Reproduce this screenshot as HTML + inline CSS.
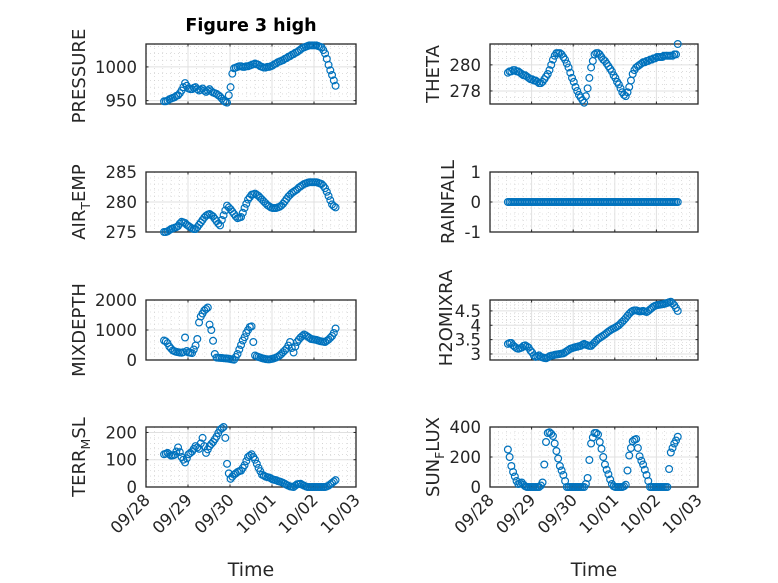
<!DOCTYPE html>
<html><head><meta charset="utf-8"><style>
html,body{margin:0;padding:0;background:#fff}
svg{display:block;font-family:"DejaVu Sans","Liberation Sans",sans-serif}
</style></head><body>
<svg id="fig" width="778" height="583" viewBox="0 0 778 583">
<rect width="778" height="583" fill="#fff"/>
<text x="251" y="31" text-anchor="middle" font-size="17.5" font-weight="bold" fill="#000">Figure 3 high</text>
</svg>
<script>
const xTickLabels = ["09/28","09/29","09/30","10/01","10/02","10/03"];
const tStart = 0.43, tStepHours = 1;
const pressure = [949,949,950,952,953,954,955,957,958,961,965,970,976,972,968,967,967,969,970,967,965,966,968,965,963,965,967,964,962,961,960,958,956,953,950,948,947,958,970,990,998,999,1000,1001,1001,1000,1000,1001,1001,1002,1003,1004,1005,1004,1003,1001,1000,999,999,1000,1000,1001,1002,1004,1005,1007,1008,1009,1010,1012,1013,1015,1016,1018,1019,1021,1022,1024,1026,1028,1029,1030,1031,1032,1032,1032,1032,1032,1031,1030,1029,1025,1020,1012,1003,995,988,980,972];
const theta = [279.4,279.5,279.5,279.6,279.6,279.5,279.5,279.4,279.3,279.2,279.2,279.1,279.0,278.9,278.9,278.8,278.8,278.7,278.6,278.6,278.7,278.9,279.1,279.3,279.6,280.0,280.4,280.7,280.9,280.9,280.9,280.8,280.6,280.4,280.1,279.8,279.4,279.0,278.7,278.3,278.0,277.7,277.5,277.3,277.1,277.6,278.2,279.0,279.8,280.3,280.8,280.9,280.9,280.8,280.6,280.4,280.3,280.1,279.9,279.7,279.5,279.2,279.0,278.7,278.5,278.2,277.9,277.7,277.6,277.9,278.3,278.8,279.3,279.6,279.8,279.9,280.0,280.1,280.2,280.2,280.3,280.3,280.4,280.4,280.5,280.5,280.6,280.6,280.6,280.6,280.7,280.7,280.7,280.7,280.7,280.7,280.8,280.8,281.6];
const airTemp = [275.0,275.0,275.1,275.3,275.5,275.6,275.7,275.8,276.0,276.4,276.7,276.6,276.5,276.2,276.0,275.8,275.6,275.5,275.5,275.8,276.2,276.6,277.0,277.4,277.7,277.9,278.0,277.8,277.6,277.2,276.8,276.4,276.1,277.0,277.8,278.6,279.4,279.1,278.8,278.4,278.0,277.6,277.3,277.4,277.5,278.2,279.0,279.7,280.4,280.8,281.2,281.3,281.4,281.2,281.0,280.7,280.4,280.1,279.8,279.5,279.3,279.1,279.0,279.0,279.0,279.1,279.2,279.4,279.7,280.1,280.5,280.9,281.2,281.5,281.7,281.9,282.1,282.4,282.6,282.8,283.0,283.1,283.2,283.3,283.3,283.3,283.3,283.3,283.2,283.1,283.0,282.7,282.3,281.7,281.0,280.3,279.6,279.3,279.1];
const rainfall = [0,0,0,0,0,0,0,0,0,0,0,0,0,0,0,0,0,0,0,0,0,0,0,0,0,0,0,0,0,0,0,0,0,0,0,0,0,0,0,0,0,0,0,0,0,0,0,0,0,0,0,0,0,0,0,0,0,0,0,0,0,0,0,0,0,0,0,0,0,0,0,0,0,0,0,0,0,0,0,0,0,0,0,0,0,0,0,0,0,0,0,0,0,0,0,0,0,0,0];
const mixDepth = [650,620,560,450,380,320,290,270,260,250,240,260,750,300,250,240,230,350,480,700,1250,1450,1550,1650,1700,1750,1180,1000,640,200,80,75,70,65,60,55,50,40,30,20,10,100,200,350,500,650,760,900,1000,1100,1120,600,150,120,100,80,60,45,30,25,20,30,40,60,80,110,150,200,260,320,380,480,600,400,250,450,600,680,750,800,850,820,780,740,700,690,680,670,650,630,620,610,600,640,680,740,800,900,1050];
const h2oMixRa = [3.35,3.38,3.38,3.30,3.25,3.20,3.18,3.20,3.22,3.28,3.30,3.26,3.22,3.12,3.05,2.95,2.90,2.92,2.95,2.90,2.88,2.86,2.85,2.88,2.92,2.94,2.95,2.97,2.98,2.99,3.00,3.01,3.02,3.06,3.10,3.14,3.18,3.20,3.22,3.24,3.25,3.27,3.28,3.32,3.35,3.32,3.30,3.28,3.28,3.34,3.40,3.46,3.52,3.56,3.60,3.64,3.68,3.73,3.78,3.82,3.86,3.89,3.92,3.96,4.00,4.06,4.12,4.18,4.25,4.33,4.40,4.46,4.50,4.52,4.52,4.50,4.48,4.49,4.50,4.48,4.46,4.50,4.55,4.60,4.65,4.68,4.70,4.71,4.72,4.73,4.74,4.76,4.78,4.80,4.82,4.76,4.70,4.60,4.50];
const terrMsl = [120,122,125,120,115,116,118,130,145,128,110,100,90,105,120,125,130,140,150,145,140,160,180,150,125,138,150,158,165,175,185,198,210,215,220,180,85,50,30,38,45,50,55,58,60,70,80,95,110,115,120,110,100,85,70,58,45,42,38,36,35,32,28,26,25,22,20,18,15,12,8,5,2,1,0,5,10,11,12,8,5,2,0,0,0,0,0,0,0,0,0,0,0,2,5,10,15,20,25];
const sunFlux = [250,200,140,100,70,40,20,25,30,15,5,0,0,0,0,0,0,0,0,10,30,150,300,360,365,355,340,290,240,190,140,110,80,40,0,0,0,0,0,0,0,0,0,0,0,20,60,180,290,330,360,360,350,300,255,200,150,115,85,50,20,5,0,0,0,0,0,5,15,110,210,260,305,315,320,260,205,175,150,115,80,40,0,0,0,0,0,0,0,0,0,0,0,120,230,260,290,310,335];
const pressureTicks = [950,1000];
const thetaTicks = [278,280];
const airTempTicks = [275,280,285];
const rainTicks = [-1,0,1];
const mixTicks = [0,1000,2000];
const h2oTicks = [3,3.5,4,4.5];
const terrTicks = [0,100,200];
const sunTicks = [0,200,400];

const NS = "http://www.w3.org/2000/svg";
const svg = document.getElementById("fig");
function mk(tag, attrs, parent){const e=document.createElementNS(NS,tag);for(const k in attrs)e.setAttribute(k,attrs[k]);(parent||svg).appendChild(e);return e;}

const panels = [
 {key:"pressure",data:pressure,ticks:pressureTicks,lim:[945,1034],minor:10,col:0,row:0,label:"PRESSURE",lx:-61,ly:2},
 {key:"theta",data:theta,ticks:thetaTicks,lim:[277,281.6],minor:0.5,col:1,row:0,label:"THETA",lx:-51,ly:0},
 {key:"air-temp",data:airTemp,ticks:airTempTicks,lim:[275,285],minor:1,col:0,row:1,label:["AIR","T","EMP"],lx:-61,ly:0},
 {key:"rainfall",data:rainfall,ticks:rainTicks,lim:[-1,1],minor:0.2,col:1,row:1,label:"RAINFALL",lx:-36,ly:0},
 {key:"mixdepth",data:mixDepth,ticks:mixTicks,lim:[0,2000],minor:200,col:0,row:2,label:"MIXDEPTH",lx:-61,ly:0},
 {key:"h2omixra",data:h2oMixRa,ticks:h2oTicks,lim:[2.79,4.88],minor:0.1,col:1,row:2,label:"H2OMIXRA",lx:-38,ly:-12},
 {key:"terr-msl",data:terrMsl,ticks:terrTicks,lim:[0,220],minor:20,col:0,row:3,label:["TERR","M","SL"],lx:-61,ly:0},
 {key:"sun-flux",data:sunFlux,ticks:sunTicks,lim:[0,400],minor:40,col:1,row:3,label:["SUN","F","LUX"],lx:-51,ly:0}
];
const colX=[146,490], colW=[210,208];
const rowY=[44,172,300,427], rowH=60;

panels.forEach(p=>{
  const x0=colX[p.col], w=colW[p.col], y0=rowY[p.row], h=rowH;
  const xs = t => x0 + t/5*w;
  const ys = v => y0 + h - (v-p.lim[0])/(p.lim[1]-p.lim[0])*h;
  const g = mk("g",{});
  
  
  for(let d=0; d<5; d+=0.2){ if(Math.abs(d-Math.round(d))<1e-6) continue;
    const l=mk("line",{x1:xs(d),x2:xs(d),y1:y0,y2:y0+h,stroke:"#c8c8c8","stroke-width":0.6,"stroke-dasharray":"1 3"},g);
      }
  const start=Math.ceil(p.lim[0]/p.minor)*p.minor;
  for(let v=start; v<=p.lim[1]+1e-9; v+=p.minor){
    if(p.ticks.some(t=>Math.abs(t-v)<1e-6)) continue;
    const l=mk("line",{x1:x0,x2:x0+w,y1:ys(v),y2:ys(v),stroke:"#c8c8c8","stroke-width":0.6,"stroke-dasharray":"1 3"},g);
      }
  for(let d=1; d<5; d++){
    const l=mk("line",{x1:xs(d),x2:xs(d),y1:y0,y2:y0+h,stroke:"#e0e0e0","stroke-width":1},g);
     
    mk("line",{x1:xs(d),x2:xs(d),y1:y0+h,y2:y0+h-2.5,stroke:"#262626","stroke-width":1},g);
    mk("line",{x1:xs(d),x2:xs(d),y1:y0,y2:y0+2.5,stroke:"#262626","stroke-width":1},g);
  }
  p.ticks.forEach(v=>{
    const y=ys(v);
    if(y>y0+0.5 && y<y0+h-0.5){
      const l=mk("line",{x1:x0,x2:x0+w,y1:y,y2:y,stroke:"#e0e0e0","stroke-width":1},g);
       
    }
    mk("line",{x1:x0,x2:x0+2.5,y1:y,y2:y,stroke:"#262626","stroke-width":1},g);
    mk("line",{x1:x0+w,x2:x0+w-2.5,y1:y,y2:y,stroke:"#262626","stroke-width":1},g);
    const tl=mk("text",{x:x0-9,y:y+6,"text-anchor":"end","font-size":"16.5",fill:"#262626"},g);
    tl.textContent=String(v);
    
    
  });
  const box=mk("rect",{x:x0,y:y0,width:w,height:h,fill:"none",stroke:"#262626","stroke-width":1.3},g);
  
  
  p.data.forEach((v,i)=>{
    const t = tStart + i*tStepHours/24;
    const c=mk("circle",{cx:xs(t),cy:ys(v),r:3.4,fill:"none",stroke:"#0072BD","stroke-width":1.2},g);
    
    
  });
  const cx = x0 + p.lx;
  const cy = y0+h/2 + p.ly;
  const lab=mk("text",{x:cx,y:cy,"text-anchor":"middle","font-size":"18",fill:"#262626",transform:`rotate(-90 ${cx} ${cy})`},g);
  if(Array.isArray(p.label)){
    const a=mk("tspan",{},lab); a.textContent=p.label[0];
    const b=mk("tspan",{dy:"5","font-size":"12.5"},lab); b.textContent=p.label[1];
    const c=mk("tspan",{dy:"-5"},lab); c.textContent=p.label[2];
  } else lab.textContent=p.label;
  
  
  if(p.row===3){
    xTickLabels.forEach((s,d)=>{
      const tx=xs(d)+5, ty=y0+h+14;
      const tl=mk("text",{x:tx,y:ty,"text-anchor":"end","font-size":"16.5",fill:"#262626",transform:`rotate(-45 ${tx} ${ty})`},g);
      tl.textContent=s;
      
      
    });
    const xl=mk("text",{x:x0+w/2,y:576,"text-anchor":"middle","font-size":"19",fill:"#262626"},g);
    xl.textContent="Time";
    
    
  }
});
</script>
</body></html>
